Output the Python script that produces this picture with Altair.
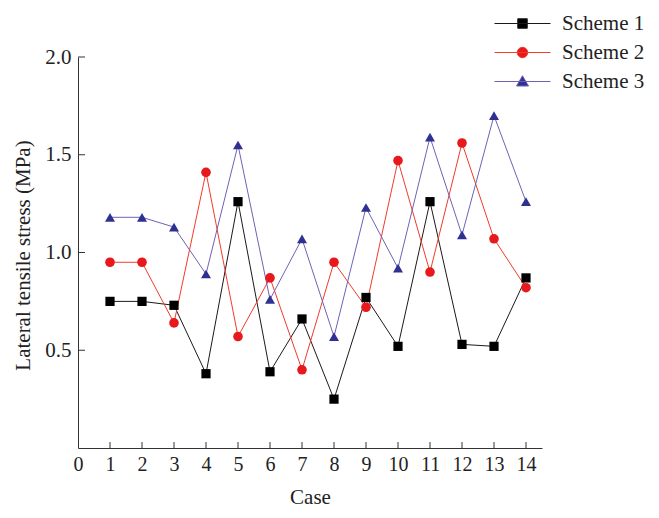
import altair as alt
import pandas as pd

# ---- data ----
cases = list(range(1, 15))
scheme1 = [0.75, 0.75, 0.73, 0.38, 1.26, 0.39, 0.66, 0.25, 0.77, 0.52, 1.26, 0.53, 0.52, 0.87]
scheme2 = [0.95, 0.95, 0.64, 1.41, 0.57, 0.87, 0.40, 0.95, 0.72, 1.47, 0.90, 1.56, 1.07, 0.82]
scheme3 = [1.18, 1.18, 1.13, 0.89, 1.55, 0.76, 1.07, 0.57, 1.23, 0.92, 1.59, 1.09, 1.70, 1.26]
series_names = ["Scheme 1", "Scheme 2", "Scheme 3"]
x_ticks = list(range(0, 15))
y_ticks = [0.5, 1.0, 1.5, 2.0]

line_colors = ["#1a1a1a", "#f03c2a", "#6f62b4"]
marker_colors = ["#000000", "#e8191c", "#2e3192"]
marker_shapes = ["square", "circle", "triangle-up"]
marker_sizes = [85, 100, 125]
# legend symbols: a short line with the series marker on it
legend_symbols = [
    "M-5.6,0H5.6M-0.95,-0.95H0.95V0.95H-0.95Z",
    "M-5.6,0H5.6M1.05,0A1.05,1.05,0,1,1,-1.05,0A1.05,1.05,0,1,1,1.05,0Z",
    "M-5.6,0H5.6M0,-1.15L1.2,0.9H-1.2Z",
]

rows = []
for name, vals in zip(series_names, [scheme1, scheme2, scheme3]):
    for c, v in zip(cases, vals):
        rows.append({"case": c, "stress": v, "series": name})
df = pd.DataFrame(rows)

W, H = 464, 391
FONT = "Liberation Serif"
TXT = "#222222"

x_scale = alt.Scale(domain=[0, 14.5], nice=False, zero=False)
y_scale = alt.Scale(domain=[0, 2.0], nice=False)

x_axis = alt.Axis(values=x_ticks, title="Case", ticks=False, grid=False,
                  labelFont=FONT, labelFontSize=20, labelPadding=6, labelColor=TXT,
                  labelOverlap=False, labelFlush=False,
                  titleFont=FONT, titleFontSize=21, titleFontWeight="normal",
                  titleColor=TXT, titleY=49, titleBaseline="middle",
                  domainColor="#333333")
y_axis = alt.Axis(values=y_ticks, format=".1f", title="Lateral tensile stress (MPa)",
                  ticks=False, grid=False,
                  labelFont=FONT, labelFontSize=21, labelPadding=7, labelColor=TXT,
                  labelOverlap=False,
                  titleFont=FONT, titleFontSize=21, titleFontWeight="normal",
                  titleColor=TXT, titleX=-55, titleY=198, titleBaseline="middle",
                  titleAlign="center", domainColor="#333333")

base = alt.Chart(df)

lines = base.mark_line(strokeWidth=1).encode(
    x=alt.X("case:Q", scale=x_scale, axis=x_axis),
    y=alt.Y("stress:Q", scale=y_scale, axis=y_axis),
    color=alt.Color("series:N", scale=alt.Scale(domain=series_names, range=line_colors),
                    legend=None),
)

points = base.mark_point(filled=True, opacity=1, strokeWidth=0).encode(
    x=alt.X("case:Q", scale=x_scale, axis=x_axis),
    y=alt.Y("stress:Q", scale=y_scale, axis=y_axis),
    fill=alt.Fill("series:N", scale=alt.Scale(domain=series_names, range=marker_colors),
                  legend=None),
    shape=alt.Shape("series:N", scale=alt.Scale(domain=series_names, range=marker_shapes),
                    legend=None),
    size=alt.Size("series:N", scale=alt.Scale(domain=series_names, range=marker_sizes),
                  legend=None),
)

L = alt.Legend(orient="none", legendX=434, legendY=-44, title=None, symbolSize=100,
               symbolOpacity=1, symbolStrokeWidth=1,
               labelFont=FONT, labelFontSize=21, labelOffset=29, rowPadding=7,
               labelColor=TXT)

# legend-only layer: no rows are drawn, the legend comes from the explicit domains
legend_layer = alt.Chart(pd.DataFrame({"key": series_names})).transform_filter(
    "false"
).mark_point(filled=True, opacity=1, strokeWidth=1).encode(
    fill=alt.Fill("key:N", scale=alt.Scale(domain=series_names, range=marker_colors), legend=L),
    stroke=alt.Stroke("key:N", scale=alt.Scale(domain=series_names, range=line_colors), legend=L),
    shape=alt.Shape("key:N", scale=alt.Scale(domain=series_names, range=legend_symbols), legend=L),
)

xt = alt.Chart(pd.DataFrame({"t": x_ticks[1:]})).mark_rule(color="#333333", strokeWidth=1).encode(
    x=alt.X("t:Q", scale=x_scale, axis=x_axis),
    y=alt.value(H), y2=alt.value(H - 6),
)
yt = alt.Chart(pd.DataFrame({"v": y_ticks})).mark_rule(color="#333333", strokeWidth=1).encode(
    y=alt.Y("v:Q", scale=y_scale, axis=y_axis),
    x=alt.value(0), x2=alt.value(7),
)

chart = alt.layer(lines, points, xt, yt, legend_layer).resolve_scale(
    fill="independent", shape="independent", stroke="independent"
).properties(
    width=W, height=H,
    padding={"left": 70, "top": 49, "right": 109, "bottom": 62},
    autosize=alt.AutoSizeParams(type="none"),
    background="white",
).configure_view(stroke=None)

chart.save("out.html", embed_options={"renderer": "svg", "actions": False})
